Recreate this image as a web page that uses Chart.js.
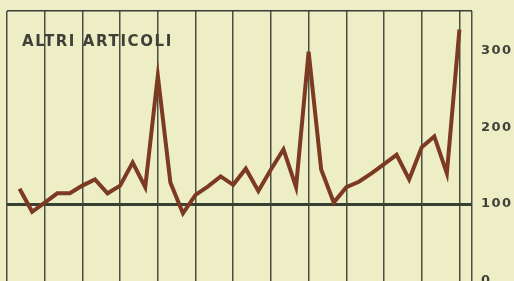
<!DOCTYPE html>
<html lang="it">
<head>
    <meta charset="UTF-8">
    <title>Altri articoli</title>
    <script src="https://cdn.jsdelivr.net/npm/chart.js"></script>
    <style>
        html, body { margin: 0; padding: 0; background: #edeec6; }
        #wrap { width: 514px; height: 281px; }
    </style>
</head>
<body>
<div id="wrap"><canvas id="chart"></canvas></div>
<script>
// monthly index, three years (G F M A M G L A S O N D)
const months = ["G","F","M","A","M","G","L","A","S","O","N","D",
                "G","F","M","A","M","G","L","A","S","O","N","D",
                "G","F","M","A","M","G","L","A","S","O","N","D"];
const values = [120, 90, 102, 114, 114, 124, 132, 114, 124, 154, 122, 267,
                128, 88, 112, 123, 136, 125, 146, 117, 145, 171, 122, 298,
                145, 102, 122, 129, 140, 152, 164, 132, 174, 188, 140, 327];
const yTicks = [0, 100, 200, 300];
const title = "ALTRI ARTICOLI";

const INK = "#3e4138";
const yMax = 351;

const paper = {
    id: "paper",
    beforeDraw(chart) {
        const c = chart.ctx;
        c.save();
        c.fillStyle = "#edeec6";
        c.fillRect(0, 0, chart.width, chart.height);
        c.restore();
        c.letterSpacing = "1.5px";
    },
    afterDraw(chart) {
        const c = chart.ctx;
        c.save();
        c.letterSpacing = "1.6px";
        c.font = "bold 15px 'DejaVu Sans'";
        c.fillStyle = INK;
        c.textBaseline = "alphabetic";
        c.fillText(title, 22, 46);
        c.restore();
    }
};

new Chart(document.getElementById("chart"), {
    type: "line",
    data: {
        labels: months,
        datasets: [{
            data: values.map((v, i) => ({ x: i, y: v })),
            borderColor: "#7b3a21",
            borderWidth: 4,
            borderJoinStyle: "miter",
            pointRadius: 0,
            tension: 0
        }]
    },
    options: {
        responsive: true,
        maintainAspectRatio: false,
        animation: false,
        layout: { padding: { top: 11, left: 7, right: 0, bottom: 0 } },
        plugins: { legend: { display: false }, tooltip: { enabled: false } },
        scales: {
            x: {
                type: "linear",
                min: -1,
                max: 36,
                afterBuildTicks(scale) {
                    const t = [];
                    for (let v = -1; v <= 35; v += 3) t.push({ value: v });
                    t.push({ value: 36 });
                    scale.ticks = t;
                },
                ticks: { display: false },
                border: { display: false },
                grid: { drawTicks: false, color: "#4a4e43", lineWidth: 1.5 }
            },
            y: {
                position: "right",
                min: 0,
                max: yMax,
                afterBuildTicks(scale) {
                    scale.ticks = yTicks.concat([yMax]).map(v => ({ value: v }));
                },
                afterFit(scale) {
                    scale.width = 42;
                    scale.paddingTop = 0;
                    scale.paddingBottom = 0;
                },
                ticks: {
                    padding: 9,
                    color: INK,
                    font: { family: "'DejaVu Sans'", weight: "bold", size: 13 },
                    callback: v => (yTicks.includes(v) ? String(v) : "")
                },
                border: { display: false },
                grid: {
                    drawTicks: false,
                    color: ctx => (ctx.tick.value === 100 || ctx.tick.value === yMax) ? "#364033" : "rgba(0,0,0,0)",
                    lineWidth: ctx => ctx.tick.value === 100 ? 3 : 1.5
                }
            }
        }
    },
    plugins: [paper]
});
</script>
</body>
</html>
